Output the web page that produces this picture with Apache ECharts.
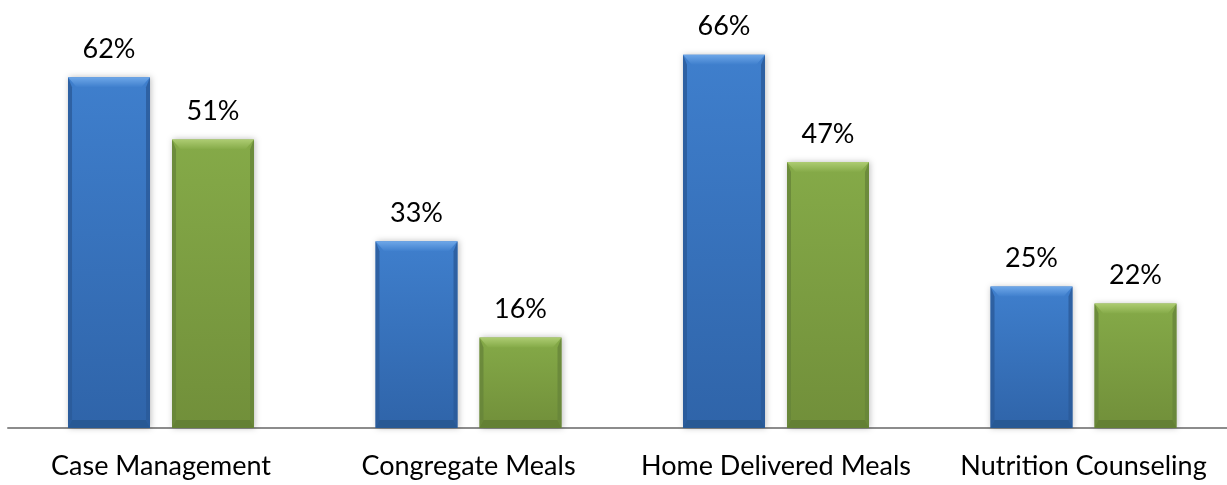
<!DOCTYPE html>
<html>
<head>
<meta charset="utf-8">
<script src="https://cdn.jsdelivr.net/npm/echarts@6/dist/echarts.min.js"></script>
<style>
  html, body { margin: 0; padding: 0; background: #fff; }
  #chart { width: 1227px; height: 485px; }
</style>
</head>
<body>
<div id="chart"></div>
<script>
// Service categories and percentage values for the two groups
const categories = ['Case Management', 'Congregate Meals', 'Home Delivered Meals', 'Nutrition Counseling'];
const blueValues = [62, 33, 66, 25];
const greenValues = [51, 16, 47, 22];

const FONT = 'Lato, "Open Sans", sans-serif';

const palettes = {
  blue: {
    body: ['#3f7fcd', '#2f64a9'],
    top: ['#6ea7e8', '#3f7fcd'],
    side: '#2a5a98',
    bottom: '#27568f'
  },
  green: {
    body: ['#85aa48', '#718f3a'],
    top: ['#adcc72', '#85aa48'],
    side: '#66843a',
    bottom: '#607c33'
  }
};

const BAR_W = 82;
const GAP = 22;
const BEVEL_TOP = 10;
const BEVEL_SIDE = 4;
const BEVEL_BOTTOM = 8;

function makeRender(pal, offset) {
  return function (params, api) {
    const catIdx = api.value(0);
    const val = api.value(1);
    const top = api.coord([catIdx, val]);
    const base = api.coord([catIdx, 0]);
    const cx = top[0] + offset;
    const x0 = cx - BAR_W / 2, x1 = cx + BAR_W / 2;
    const y0 = top[1], y1 = base[1];
    const vGrad = (c) => new echarts.graphic.LinearGradient(0, 0, 0, 1, [
      { offset: 0, color: c[0] }, { offset: 1, color: c[1] }
    ]);
    return {
      type: 'group',
      children: [
        { type: 'rect', shape: { x: x0, y: y0, width: BAR_W, height: y1 - y0 },
          style: { fill: vGrad(pal.body), shadowBlur: 6, shadowColor: 'rgba(0,0,0,0.25)', shadowOffsetX: 1, shadowOffsetY: 0 } },
        { type: 'polygon', shape: { points: [[x0, y1], [x0 + BEVEL_SIDE, y1 - BEVEL_BOTTOM], [x1 - BEVEL_SIDE, y1 - BEVEL_BOTTOM], [x1, y1]] },
          style: { fill: pal.bottom, opacity: 0.8 } },
        { type: 'polygon', shape: { points: [[x0, y0], [x0 + BEVEL_SIDE, y0 + BEVEL_TOP], [x0 + BEVEL_SIDE, y1 - BEVEL_BOTTOM], [x0, y1]] },
          style: { fill: pal.side, opacity: 0.8 } },
        { type: 'polygon', shape: { points: [[x1, y0], [x1 - BEVEL_SIDE, y0 + BEVEL_TOP], [x1 - BEVEL_SIDE, y1 - BEVEL_BOTTOM], [x1, y1]] },
          style: { fill: pal.side, opacity: 0.8 } },
        { type: 'polygon', shape: { points: [[x0, y0], [x1, y0], [x1 - BEVEL_SIDE * 2.2, y0 + BEVEL_TOP], [x0 + BEVEL_SIDE * 2.2, y0 + BEVEL_TOP]] },
          style: { fill: vGrad(pal.top) } },
        { type: 'text', x: cx, y: y0 - 28,
          style: { text: val + '%', fill: '#000', font: '27px ' + FONT, align: 'center', verticalAlign: 'middle' } }
      ]
    };
  };
}

const chart = echarts.init(document.getElementById('chart'), null, { renderer: 'canvas' });
chart.setOption({
  animation: false,
  grid: { left: 8, right: 0, top: 32, bottom: 57 },
  // Category positions sit on a numeric axis so the last group can run close to the right edge
  xAxis: {
    type: 'value',
    min: -0.4976,
    max: 3.4667,
    splitLine: { show: false },
    axisLine: { onZero: false, lineStyle: { color: '#8c8c8c', width: 2 } },
    axisTick: { show: false },
    axisLabel: {
      color: '#000', fontSize: 27, fontFamily: FONT, margin: 25,
      customValues: categories.map((c, i) => i),
      formatter: (v) => categories[Math.round(v)] || ''
    }
  },
  yAxis: {
    type: 'value', min: 0, max: 70, show: false,
    splitLine: { show: false }
  },
  series: [
    { type: 'custom', renderItem: makeRender(palettes.blue, -(BAR_W + GAP) / 2),
      data: blueValues.map((v, i) => [i, v]), encode: { x: 0, y: 1 } },
    { type: 'custom', renderItem: makeRender(palettes.green, (BAR_W + GAP) / 2),
      data: greenValues.map((v, i) => [i, v]), encode: { x: 0, y: 1 } }
  ]
});
</script>
</body>
</html>
